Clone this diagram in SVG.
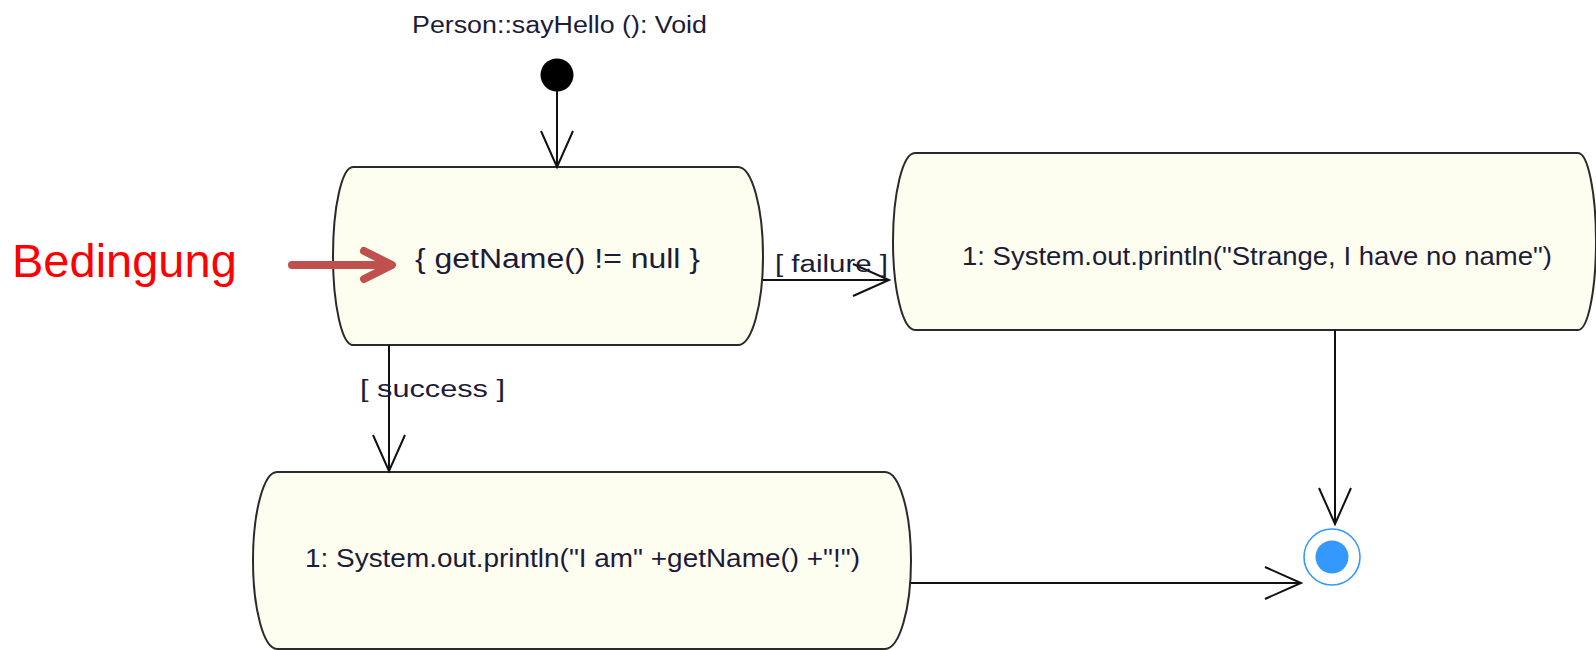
<svg xmlns="http://www.w3.org/2000/svg" width="1596" height="650" viewBox="0 0 1596 650">
  <style>
    .node { fill: #fefef0; stroke: #2a2a2a; stroke-width: 2; }
    .lbl { font-family: "Liberation Sans", Arial, sans-serif; fill: #1c1c38; }
    .conn { stroke: #111; stroke-width: 2; fill: none; }
    .anno { stroke: #c0504d; stroke-width: 8; fill: none; stroke-linecap: round; stroke-linejoin: round; }
  </style>
  <defs>
    <marker id="open" markerUnits="userSpaceOnUse" markerWidth="44" markerHeight="40" viewBox="-40 -20 44 40" refX="0" refY="0" orient="auto">
      <path d="M-36,-16 L0,0 L-36,16" fill="none" stroke="#111" stroke-width="2"/>
    </marker>
  </defs>
  <rect width="1596" height="650" fill="#ffffff"/>

  <text class="lbl" x="412" y="33" font-size="23" textLength="295" lengthAdjust="spacingAndGlyphs">Person::sayHello (): Void</text>

  <g id="initial">
    <circle cx="557" cy="75" r="16.5" fill="#000"/>
  </g>

  <g id="node-condition">
    <path class="node" d="M353,167 H738 A25,89 0 0 1 738,345 H353 A20,89 0 0 1 353,167 Z"/>
    <text class="lbl" x="415" y="268" font-size="27" textLength="285" lengthAdjust="spacingAndGlyphs">{ getName() != null }</text>
  </g>

  <g id="node-failure">
    <path class="node" d="M915,153 H1578 A18,88.5 0 0 1 1578,330 H915 A22,88.5 0 0 1 915,153 Z"/>
    <text class="lbl" x="962" y="265" font-size="26" textLength="590" lengthAdjust="spacingAndGlyphs">1: System.out.println("Strange, I have no name")</text>
  </g>

  <g id="node-success">
    <path class="node" d="M277,472 H885 A26,88.5 0 0 1 885,649 H277 A24,88.5 0 0 1 277,472 Z"/>
    <text class="lbl" x="305" y="567" font-size="26" textLength="555" lengthAdjust="spacingAndGlyphs">1: System.out.println("I am" +getName() +"!")</text>
  </g>

  <g id="final">
    <circle cx="1332" cy="557" r="28" fill="#ffffff" stroke="#3399ff" stroke-width="1.6"/>
    <circle cx="1332" cy="557" r="16.5" fill="#3399ff"/>
  </g>

  <g id="connectors">
    <line class="conn" x1="557" y1="91" x2="557" y2="167" marker-end="url(#open)"/>
    <line class="conn" x1="763" y1="280" x2="889" y2="280" marker-end="url(#open)"/>
    <text class="lbl" x="775" y="272" font-size="23" textLength="113" lengthAdjust="spacingAndGlyphs">[  failure  ]</text>
    <line class="conn" x1="389" y1="345" x2="389" y2="471" marker-end="url(#open)"/>
    <text class="lbl" x="360" y="397" font-size="23" textLength="145" lengthAdjust="spacingAndGlyphs">[  success  ]</text>
    <line class="conn" x1="1335" y1="330" x2="1335" y2="524" marker-end="url(#open)"/>
    <line class="conn" x1="911" y1="583" x2="1301" y2="583" marker-end="url(#open)"/>
  </g>

  <g id="annotation">
    <text x="12" y="277" font-family="'Liberation Sans', Arial, sans-serif" font-size="47" fill="#ff0000">Bedingung</text>
    <line class="anno" x1="292" y1="265" x2="390" y2="265"/>
    <polyline class="anno" points="364,251 392,265 364,279"/>
  </g>
</svg>
